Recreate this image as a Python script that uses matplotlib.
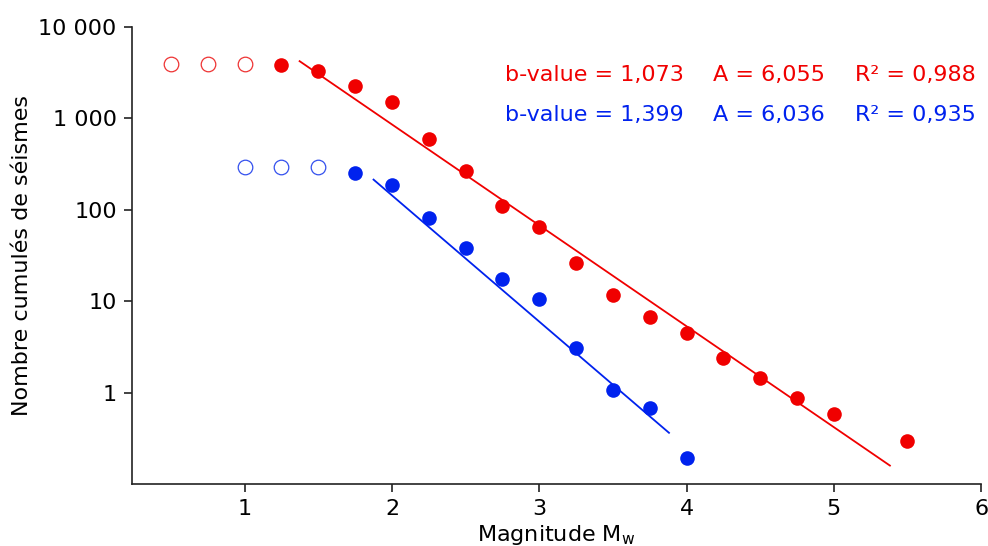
import matplotlib
matplotlib.use("Agg")
import matplotlib.pyplot as plt
from matplotlib.ticker import FixedLocator, FixedFormatter, NullLocator

plt.rcParams['font.family'] = ['DejaVu Sans']

# Red series
red_open_x = [0.5, 0.75, 1.0]
red_open_y = [3970, 3970, 3970]
red_x = [1.25, 1.5, 1.75, 2.0, 2.25, 2.5, 2.75, 3.0, 3.25, 3.5, 3.75, 4.0,
         4.25, 4.5, 4.75, 5.0, 5.5]
red_y = [3820, 3340, 2290, 1525, 588, 264, 111, 65.6, 26, 11.6, 6.8, 4.45,
         2.42, 1.43, 0.875, 0.578, 0.294]
red_fit_x = [1.373, 5.381]
red_fit_y = [4230, 0.159]

# Blue series
blue_open_x = [1.0, 1.25, 1.5]
blue_open_y = [297, 297, 297]
blue_x = [1.75, 2.0, 2.25, 2.5, 2.75, 3.0, 3.25, 3.5, 3.75, 4.0]
blue_y = [255, 188, 82, 38.5, 17.5, 10.6, 3.1, 1.06, 0.67, 0.193]
blue_fit_x = [1.875, 3.881]
blue_fit_y = [214, 0.363]

red_text = ["b-value = 1,073", "A = 6,055", "R² = 0,988"]
blue_text = ["b-value = 1,399", "A = 6,036", "R² = 0,935"]

ytick_vals = [1, 10, 100, 1000, 10000]
ytick_labels = ["1", "10", "100", "1 000", "10 000"]
xtick_vals = [1, 2, 3, 4, 5, 6]
xtick_labels = ["1", "2", "3", "4", "5", "6"]

RED = "#f00000"
BLUE = "#0022ee"

fig = plt.figure(figsize=(9.88, 5.46), dpi=100)
ax = fig.add_axes([0.1336, 0.1136, 0.8594, 0.8369])

ax.plot(red_fit_x, red_fit_y, color=RED, lw=1.3, zorder=2)
ax.plot(blue_fit_x, blue_fit_y, color=BLUE, lw=1.3, zorder=2)

ax.plot(red_open_x, red_open_y, 'o', ms=10.5, mfc='none', mec="#ee3333", mew=0.9, zorder=3)
ax.plot(blue_open_x, blue_open_y, 'o', ms=10.5, mfc='none', mec="#3350ee", mew=0.9, zorder=3)
ax.plot(red_x, red_y, 'o', ms=10.5, color=RED, mec='none', zorder=3)
ax.plot(blue_x, blue_y, 'o', ms=10.5, color=BLUE, mec='none', zorder=3)

ax.set_yscale('log')
ax.set_xlim(0.235, 6.0)
ax.set_ylim(0.1, 10000)

ax.yaxis.set_major_locator(FixedLocator(ytick_vals))
ax.yaxis.set_major_formatter(FixedFormatter(ytick_labels))
ax.yaxis.set_minor_locator(NullLocator())
ax.xaxis.set_major_locator(FixedLocator(xtick_vals))
ax.xaxis.set_major_formatter(FixedFormatter(xtick_labels))

for s in ['top', 'right']:
    ax.spines[s].set_visible(False)
for s in ['left', 'bottom']:
    ax.spines[s].set_color('#222222')
    ax.spines[s].set_linewidth(1.2)

ax.tick_params(axis='both', direction='out', length=6, width=1.2, color='#222222',
               labelsize=16, pad=5)

ax.set_ylabel("Nombre cumulés de séismes", fontsize=16, labelpad=5)
ax.set_xlabel(r"Magnitude M$_\mathregular{w}$", fontsize=16, labelpad=3)

xs = [0.4393, 0.684, 0.8516]
for i, t in enumerate(red_text):
    ax.text(xs[i], 0.895, t, transform=ax.transAxes, color=RED, fontsize=16,
            ha='left', va='center')
for i, t in enumerate(blue_text):
    ax.text(xs[i], 0.8074, t, transform=ax.transAxes, color=BLUE, fontsize=16,
            ha='left', va='center')

fig.savefig("out.png", dpi=100)
